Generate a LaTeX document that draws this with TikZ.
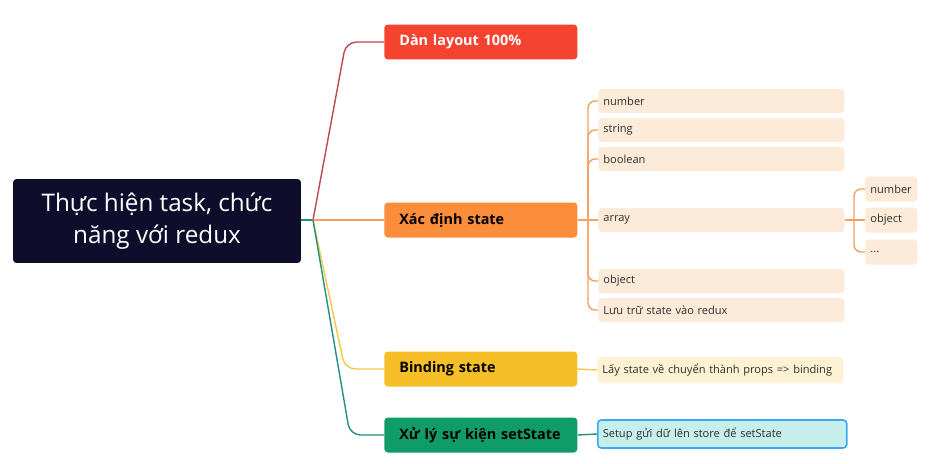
\documentclass[tikz,border=0pt]{standalone}
\usepackage{fontspec}
\setmainfont{Open Sans}
\usetikzlibrary{positioning,calc}

\definecolor{rootbg}{HTML}{0E0D2B}
\definecolor{redbox}{HTML}{F4432F}
\definecolor{redline}{HTML}{C2474F}
\definecolor{orangebox}{HTML}{FB8D3B}
\definecolor{orangeline}{HTML}{F4A05E}
\definecolor{yellowbox}{HTML}{F6BF27}
\definecolor{yellowline}{HTML}{F4C84A}
\definecolor{greenbox}{HTML}{109C69}
\definecolor{greenline}{HTML}{23917F}
\definecolor{peach}{HTML}{FDEBD9}
\definecolor{cream}{HTML}{FDF3D4}
\definecolor{mint}{HTML}{C6EEEA}
\definecolor{selblue}{HTML}{3DA8F2}
\definecolor{leaftext}{HTML}{2F2F2F}

\tikzset{
  rootbox/.style={fill=rootbg, text=white, rounded corners=2pt, minimum width=5.76cm,
    minimum height=1.68cm, align=center, font=\fontsize{13.8}{18}\selectfont},
  topic/.style={anchor=west, rounded corners=2pt, minimum height=0.7cm, text width=3.26cm,
    inner xsep=0.3cm, inner ysep=0pt, align=left, font=\fontsize{8.2}{10}\selectfont\bfseries},
  leaf/.style={anchor=west, fill=peach, rounded corners=2pt, minimum height=0.48cm,
    text width=4.72cm, inner xsep=0.1cm, inner ysep=0pt, align=left, text=leaftext,
    font=\fontsize{6.3}{7}\selectfont},
  tinyleaf/.style={leaf, text width=0.84cm, minimum height=0.5cm},
  link/.style={line width=0.8pt, rounded corners=6pt}
}

\begin{document}
\begin{tikzpicture}[x=0.02cm, y=-0.02cm]
  \fill[white] (0,0) rectangle (935,463);
  \useasboundingbox (0,0) rectangle (935,463);

  % root and main topics
  \node[rootbox] (root) at (157,221) {Thực hiện task, chức\\năng với redux};
  \coordinate (hub) at (313,220);

  \node[topic, fill=redbox, text=white] (layout) at (384,42) {Dàn layout 100\%};
  \node[topic, fill=orangebox] (state) at (384,220) {Xác định state};
  \node[topic, fill=yellowbox] (binding) at (384,369) {Binding state};
  \node[topic, fill=greenbox] (event) at (384,435) {\mbox{Xử lý sự kiện setState}};

  \draw[greenline, line width=0.8pt] (root.east |- hub) -- (hub);
  \draw[link, redline] (hub) -- (346,42) -- (layout.west);
  \draw[link, orangeline] (hub) -- (state.west);
  \draw[link, yellowline] (hub) -- (345,369) -- (binding.west);
  \draw[link, greenline] (hub) -- (350,435) -- (event.west);

  % state types
  \node[leaf] (number) at (598,101) {number};
  \node[leaf] (string) at (598,130) {string};
  \node[leaf] (bool) at (598,159) {boolean};
  \node[leaf] (array) at (598,220) {array};
  \node[leaf] (object) at (598,281) {object};
  \node[leaf] (store) at (598,310) {Lưu trữ state vào redux};

  \coordinate (split) at (588,220);
  \draw[orangeline, line width=0.8pt] (state.east) -- (array.west);
  \foreach \n in {number,string,bool,object,store}
    \draw[link, rounded corners=4pt, orangeline] (split) |- (\n.west);

  % array items
  \node[tinyleaf] (anum) at (865,189) {number};
  \node[tinyleaf] (aobj) at (865,220) {object};
  \node[tinyleaf] (amore) at (865,252) {...};

  \coordinate (asplit) at (854,220);
  \draw[orangeline, line width=0.8pt] (array.east) -- (aobj.west);
  \foreach \n in {anum,amore}
    \draw[link, rounded corners=4pt, orangeline] (asplit) |- (\n.west);

  % binding and event details
  \node[leaf, fill=cream, minimum height=0.52cm] (props) at (597,370) {Lấy state về chuyển thành props => binding};
  \node[leaf, fill=mint, draw=selblue, line width=0.9pt, text width=4.78cm, minimum height=0.56cm] (setup) at (597,434) {Setup gửi dữ lên store để setState};

  \draw[yellowline, line width=0.8pt] (binding.east) -- (props.west);
  \draw[greenline, line width=0.8pt] (event.east) -- (setup.west);
\end{tikzpicture}
\end{document}
